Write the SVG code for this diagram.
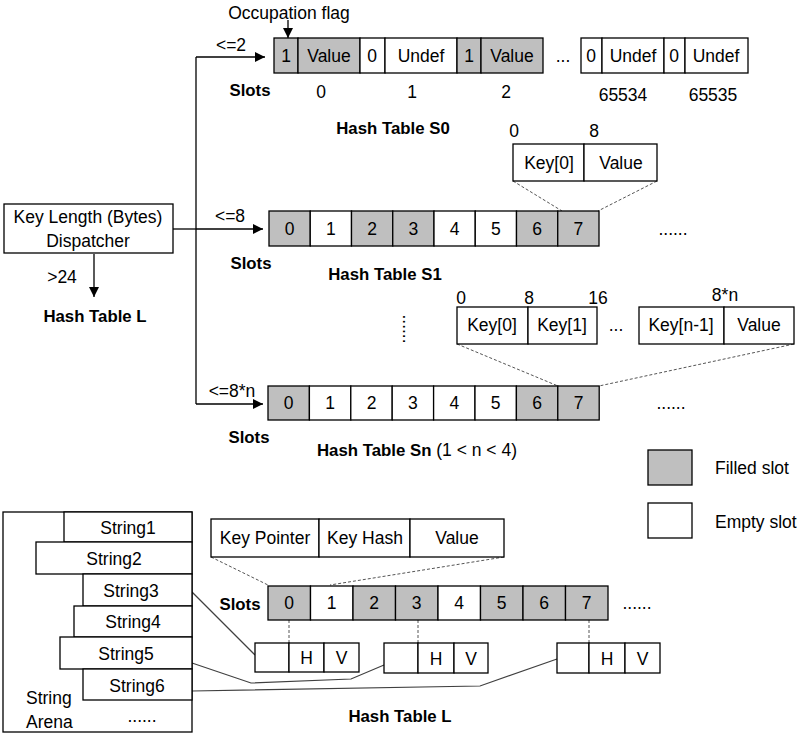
<svg xmlns="http://www.w3.org/2000/svg" width="803" height="736" viewBox="0 0 803 736">
<defs>
<marker id="arr" viewBox="0 0 10 10" refX="10" refY="5" markerWidth="10" markerHeight="10" markerUnits="userSpaceOnUse" orient="auto">
<path d="M0,0 L10,5 L0,10 z" fill="#000"/>
</marker>
<style>
text{font-family:"Liberation Sans",Arial,sans-serif;font-size:17.5px;fill:#000}
.b{font-weight:bold;font-size:16.8px}
.m{text-anchor:middle}
.c{stroke:#000;stroke-width:1.3}
.f{fill:#bfbfbf}
.e{fill:#fff}
.ln{fill:none;stroke:#000;stroke-width:1.3}
.dash{fill:none;stroke:#555;stroke-width:1;stroke-dasharray:3,2}
.sl{fill:none;stroke:#404040;stroke-width:1.2}
</style>
</defs>
<rect width="803" height="736" fill="#fff"/>

<g id="connectors">
<path class="ln" d="M288,20 L288,38" marker-end="url(#arr)"/>
<path class="ln" d="M173,229 L196,229"/>
<path class="ln" d="M196,57 L196,404"/>
<path class="ln" d="M196,57 L265,57" marker-end="url(#arr)"/>
<path class="ln" d="M196,229 L263,229" marker-end="url(#arr)"/>
<path class="ln" d="M196,404 L263,404" marker-end="url(#arr)"/>
<path class="ln" d="M94,254 L94,297" marker-end="url(#arr)"/>
<path class="dash" d="M513,181 L562,211 M657,181 L598,211"/>
<path class="dash" d="M457,344 L558,386 M794,344 L599,386"/>
<path class="dash" d="M211,557 L268,585 M504,557 L330,585"/>
<path class="dash" d="M289,620 L289,643 M418,620 L418,643 M589,620 L589,643"/>
<path class="sl" d="M192,592 L255,655"/>
<path class="sl" d="M192,663 L251,683 L351,679 L384,665"/>
<path class="sl" d="M192,691 L480,686 L557,659"/>
</g>

<g id="label-occupation"><text x="289" y="19" class="m">Occupation flag</text></g>

<g id="dispatcher">
<rect x="4" y="204" width="169" height="49" class="c e"/>
<text x="88" y="223" class="m">Key Length (Bytes)</text>
<text x="88" y="247" class="m">Dispatcher</text>
</g>
<g id="edge-labels">
<text x="231" y="51" class="m">&lt;=2</text>
<text x="230" y="222" class="m">&lt;=8</text>
<text x="232" y="397" class="m">&lt;=8*n</text>
<text x="62" y="283" class="m">&gt;24</text>
</g>
<g id="hash-table-l-label"><text x="95" y="322" class="m b">Hash Table L</text></g>

<g id="table-s0">
<rect x="274" y="38" width="24" height="35" class="c f"/>
<rect x="298" y="38" width="62" height="35" class="c f"/>
<rect x="360" y="38" width="25" height="35" class="c e"/>
<rect x="385" y="38" width="72" height="35" class="c e"/>
<rect x="457" y="38" width="24" height="35" class="c f"/>
<rect x="481" y="38" width="62" height="35" class="c f"/>
<rect x="581" y="38" width="21" height="35" class="c e"/>
<rect x="602" y="38" width="62" height="35" class="c e"/>
<rect x="664" y="38" width="21" height="35" class="c e"/>
<rect x="685" y="38" width="63" height="35" class="c e"/>
<text x="286" y="62" class="m">1</text>
<text x="329" y="62" class="m">Value</text>
<text x="372" y="62" class="m">0</text>
<text x="421" y="62" class="m">Undef</text>
<text x="469" y="62" class="m">1</text>
<text x="512" y="62" class="m">Value</text>
<text x="563" y="62" class="m">...</text>
<text x="591" y="62" class="m">0</text>
<text x="633" y="62" class="m">Undef</text>
<text x="674" y="62" class="m">0</text>
<text x="716" y="62" class="m">Undef</text>
<text x="250" y="96" class="m b">Slots</text>
<text x="321" y="98" class="m">0</text>
<text x="412" y="98" class="m">1</text>
<text x="506" y="98" class="m">2</text>
<text x="623" y="101" class="m">65534</text>
<text x="713" y="101" class="m">65535</text>
<text x="393" y="134" class="m b">Hash Table S0</text>
</g>

<g id="s1-entry">
<text x="514" y="137" class="m">0</text>
<text x="594" y="137" class="m">8</text>
<rect x="513" y="144" width="71" height="37" class="c e"/>
<rect x="584" y="144" width="73" height="37" class="c e"/>
<text x="549" y="169" class="m">Key[0]</text>
<text x="621" y="169" class="m">Value</text>
</g>

<g id="table-s1">
<rect x="269" y="211" width="41.25" height="35" class="c f"/>
<rect x="310.25" y="211" width="41.25" height="35" class="c e"/>
<rect x="351.5" y="211" width="41.25" height="35" class="c f"/>
<rect x="392.75" y="211" width="41.25" height="35" class="c f"/>
<rect x="434" y="211" width="41.25" height="35" class="c e"/>
<rect x="475.25" y="211" width="41.25" height="35" class="c e"/>
<rect x="516.5" y="211" width="41.25" height="35" class="c f"/>
<rect x="557.75" y="211" width="41.25" height="35" class="c f"/>
<text x="289.6" y="235" class="m">0</text>
<text x="330.9" y="235" class="m">1</text>
<text x="372.1" y="235" class="m">2</text>
<text x="413.4" y="235" class="m">3</text>
<text x="454.6" y="235" class="m">4</text>
<text x="495.9" y="235" class="m">5</text>
<text x="537.1" y="235" class="m">6</text>
<text x="578.4" y="235" class="m">7</text>
<text x="673" y="235" class="m">......</text>
<text x="251" y="269" class="m b">Slots</text>
<text x="385" y="280" class="m b">Hash Table S1</text>
</g>

<g id="sn-entry">
<text x="461" y="304" class="m">0</text>
<text x="529" y="304" class="m">8</text>
<text x="598" y="304" class="m">16</text>
<text x="725" y="301" class="m">8*n</text>
<rect x="457" y="307" width="71" height="37" class="c e"/>
<rect x="528" y="307" width="69" height="37" class="c e"/>
<text x="492" y="331" class="m">Key[0]</text>
<text x="562" y="331" class="m">Key[1]</text>
<text x="616" y="331" class="m">...</text>
<rect x="639" y="307" width="85" height="37" class="c e"/>
<rect x="724" y="307" width="70" height="37" class="c e"/>
<text x="681" y="331" class="m">Key[n-1]</text>
<text x="759" y="331" class="m">Value</text>
<text x="0" y="0" class="m" transform="translate(403,329) rotate(90)">......</text>
</g>

<g id="table-sn">
<rect x="268" y="386" width="41.4" height="34" class="c f"/>
<rect x="309.4" y="386" width="41.4" height="34" class="c e"/>
<rect x="350.8" y="386" width="41.4" height="34" class="c e"/>
<rect x="392.2" y="386" width="41.4" height="34" class="c e"/>
<rect x="433.6" y="386" width="41.4" height="34" class="c e"/>
<rect x="475" y="386" width="41.4" height="34" class="c e"/>
<rect x="516.4" y="386" width="41.4" height="34" class="c f"/>
<rect x="557.8" y="386" width="41.4" height="34" class="c f"/>
<text x="288.7" y="409" class="m">0</text>
<text x="330.1" y="409" class="m">1</text>
<text x="371.5" y="409" class="m">2</text>
<text x="412.9" y="409" class="m">3</text>
<text x="454.3" y="409" class="m">4</text>
<text x="495.7" y="409" class="m">5</text>
<text x="537.1" y="409" class="m">6</text>
<text x="578.5" y="409" class="m">7</text>
<text x="671" y="409" class="m">......</text>
<text x="249" y="443" class="m b">Slots</text>
<text x="317" y="456"><tspan class="b">Hash Table Sn</tspan> (1 &lt; n &lt; 4)</text>
</g>

<g id="legend">
<rect x="648" y="450" width="44" height="35" class="c f"/>
<text x="715" y="474">Filled slot</text>
<rect x="648" y="503" width="44" height="35" class="c e"/>
<text x="715" y="528">Empty slot</text>
</g>

<g id="string-arena">
<rect x="3" y="512" width="189" height="220" class="c e"/>
<rect x="64" y="512" width="128" height="30" class="c e"/>
<rect x="36" y="542" width="156" height="32" class="c e"/>
<rect x="83" y="574" width="109" height="32" class="c e"/>
<rect x="74" y="606" width="118" height="31" class="c e"/>
<rect x="60" y="637" width="132" height="32" class="c e"/>
<rect x="83" y="669" width="109" height="31" class="c e"/>
<text x="128" y="534" class="m">String1</text>
<text x="114" y="565" class="m">String2</text>
<text x="131" y="597" class="m">String3</text>
<text x="133" y="628" class="m">String4</text>
<text x="126" y="660" class="m">String5</text>
<text x="137" y="692" class="m">String6</text>
<text x="26" y="704">String</text>
<text x="26" y="728">Arena</text>
<text x="142" y="722" class="m">......</text>
</g>

<g id="entry-l">
<rect x="211" y="519" width="108" height="38" class="c e"/>
<rect x="319" y="519" width="91" height="38" class="c e"/>
<rect x="410" y="519" width="94" height="38" class="c e"/>
<text x="265" y="544" class="m">Key Pointer</text>
<text x="365" y="544" class="m">Key Hash</text>
<text x="457" y="544" class="m">Value</text>
</g>

<g id="table-l">
<rect x="268" y="586" width="42.5" height="34" class="c f"/>
<rect x="310.5" y="586" width="42.5" height="34" class="c e"/>
<rect x="353" y="586" width="42.5" height="34" class="c f"/>
<rect x="395.5" y="586" width="42.5" height="34" class="c f"/>
<rect x="438" y="586" width="42.5" height="34" class="c e"/>
<rect x="480.5" y="586" width="42.5" height="34" class="c f"/>
<rect x="523" y="586" width="42.5" height="34" class="c f"/>
<rect x="565.5" y="586" width="42.5" height="34" class="c f"/>
<text x="289.2" y="609" class="m">0</text>
<text x="331.7" y="609" class="m">1</text>
<text x="374.2" y="609" class="m">2</text>
<text x="416.7" y="609" class="m">3</text>
<text x="459.2" y="609" class="m">4</text>
<text x="501.7" y="609" class="m">5</text>
<text x="544.2" y="609" class="m">6</text>
<text x="586.7" y="609" class="m">7</text>
<text x="637" y="609" class="m">......</text>
<text x="240" y="610" class="m b">Slots</text>
<text x="400" y="722" class="m b">Hash Table L</text>
</g>

<g id="hv-0">
<rect x="255" y="643" width="34" height="29" class="c e"/>
<rect x="289" y="643" width="35" height="29" class="c e"/>
<rect x="324" y="643" width="35" height="29" class="c e"/>
<text x="306.5" y="664" class="m">H</text>
<text x="341.5" y="664" class="m">V</text>
</g>
<g id="hv-3">
<rect x="384" y="643" width="34" height="30" class="c e"/>
<rect x="418" y="643" width="36" height="30" class="c e"/>
<rect x="454" y="643" width="34" height="30" class="c e"/>
<text x="436" y="665" class="m">H</text>
<text x="471" y="665" class="m">V</text>
</g>
<g id="hv-7">
<rect x="557" y="643" width="32" height="30" class="c e"/>
<rect x="589" y="643" width="36" height="30" class="c e"/>
<rect x="625" y="643" width="35" height="30" class="c e"/>
<text x="607" y="665" class="m">H</text>
<text x="642.5" y="665" class="m">V</text>
</g>
</svg>
